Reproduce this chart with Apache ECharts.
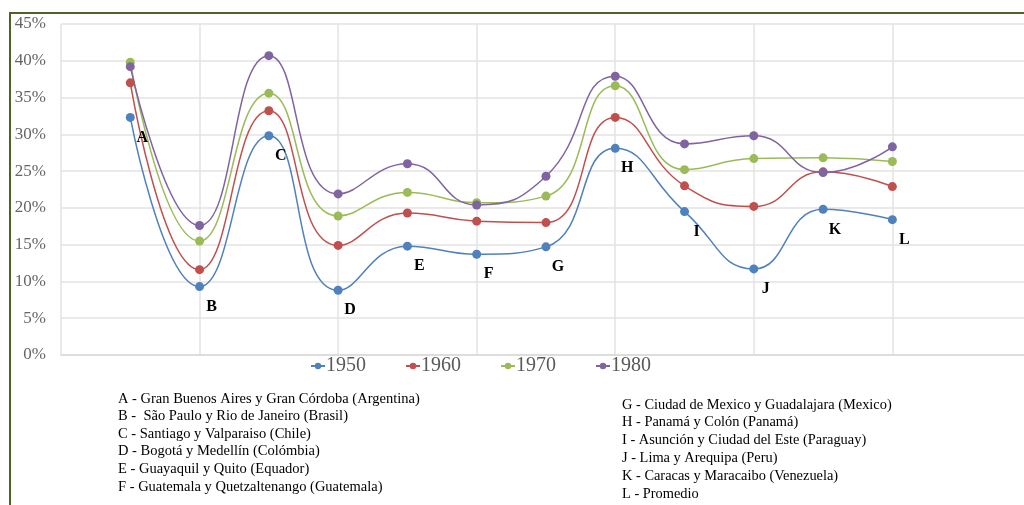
<!DOCTYPE html>
<html>
<head>
<meta charset="utf-8">
<script src="https://cdn.jsdelivr.net/npm/echarts@6/dist/echarts.min.js"></script>
<style>
html,body{margin:0;padding:0;background:#fff;}
#chart{width:1024px;height:505px;}
</style>
</head>
<body>
<div id="chart"></div>
<script>
const categories = ['A','B','C','D','E','F','G','H','I','J','K','L'];
const seriesNames = ['1950','1960','1970','1980'];
const v1950 = [32.3, 9.3, 29.8, 8.8, 14.8, 13.7, 14.7, 28.1, 19.5, 11.7, 19.8, 18.4];
const v1960 = [37.0, 11.6, 33.2, 14.9, 19.3, 18.2, 18.0, 32.3, 23.0, 20.2, 24.9, 22.9];
const v1970 = [39.8, 15.5, 35.6, 18.9, 22.1, 20.7, 21.6, 36.6, 25.2, 26.7, 26.8, 26.3];
const v1980 = [39.2, 17.6, 40.7, 21.9, 26.0, 20.4, 24.3, 37.9, 28.7, 29.8, 24.8, 28.3];
const colors = ['#4F81BD','#C0504D','#9BBB59','#8064A2'];
const notesLeft = [
  'A - Gran Buenos Aires y Gran Córdoba (Argentina)',
  'B -  São Paulo y Rio de Janeiro (Brasil)',
  'C - Santiago y Valparaiso (Chile)',
  'D - Bogotá y Medellín (Colómbia)',
  'E - Guayaquil y Quito (Equador)',
  'F - Guatemala y Quetzaltenango (Guatemala)'
];
const notesRight = [
  'G - Ciudad de Mexico y Guadalajara (Mexico)',
  'H - Panamá y Colón (Panamá)',
  'I - Asunción y Ciudad del Este (Paraguay)',
  'J - Lima y Arequipa (Peru)',
  'K - Caracas y Maracaibo (Venezuela)',
  'L - Promedio'
];

const serif = '"Liberation Serif", "Times New Roman", serif';
const allValues = [v1950, v1960, v1970, v1980];

const chart = echarts.init(document.getElementById('chart'));
const series = allValues.map((vals, si) => ({
  name: seriesNames[si],
  type: 'line',
  smooth: 0.5,
  symbol: 'circle',
  symbolSize: 9,
  data: vals.map((v, i) => [i + 1, v]),
  lineStyle: { width: 1.5, color: colors[si] },
  itemStyle: { color: colors[si] },
  label: si === 0 ? {
    show: true,
    position: 'inside',
    offset: [12, 20],
    formatter: p => categories[p.dataIndex],
    fontFamily: serif,
    fontWeight: 'bold',
    fontSize: 16,
    color: '#000'
  } : { show: false },
  emphasis: { disabled: true },
  animation: false
}));

chart.setOption({
  animation: false,
  color: colors,
  grid: { left: 61, top: 24, right: 0, height: 331, containLabel: false },
  xAxis: {
    type: 'value', min: 0, max: 13.9, interval: 2,
    axisLabel: { show: false },
    axisTick: { show: false },
    axisLine: { show: true, lineStyle: { color: '#d9d9d9', width: 1.5 } },
    splitLine: { show: true, showMaxLine: false, lineStyle: { color: '#e3e3e3', width: 1.5 } }
  },
  yAxis: {
    type: 'value', min: 0, max: 45, interval: 5,
    axisLabel: { formatter: '{value}%', fontFamily: serif, fontSize: 17, color: '#666', margin: 15 },
    axisTick: { show: false },
    axisLine: { show: false },
    splitLine: { show: true, lineStyle: { color: '#e3e3e3', width: 1.5 } }
  },
  legend: {
    data: seriesNames,
    left: 305, top: 351,
    itemWidth: 14, itemHeight: 8, itemGap: 39,
    textStyle: { fontFamily: serif, fontSize: 20, color: '#595959', padding: [0,0,0,-4] }
  },
  graphic: [
    { type: 'line', shape: { x1: 10, y1: 13, x2: 10, y2: 505 }, style: { stroke: '#4F6228', lineWidth: 2 } },
    { type: 'line', shape: { x1: 9, y1: 13, x2: 1024, y2: 13 }, style: { stroke: '#4F6228', lineWidth: 2 } },
    { type: 'text', left: 118, top: 390, style: { text: notesLeft.join('\n'), font: '14.5px ' + serif, fill: '#000', lineHeight: 17.6 } },
    { type: 'text', left: 622, top: 396, style: { text: notesRight.join('\n'), font: '14.4px ' + serif, fill: '#000', lineHeight: 17.8 } }
  ],
  series: series
});
</script>
</body>
</html>
